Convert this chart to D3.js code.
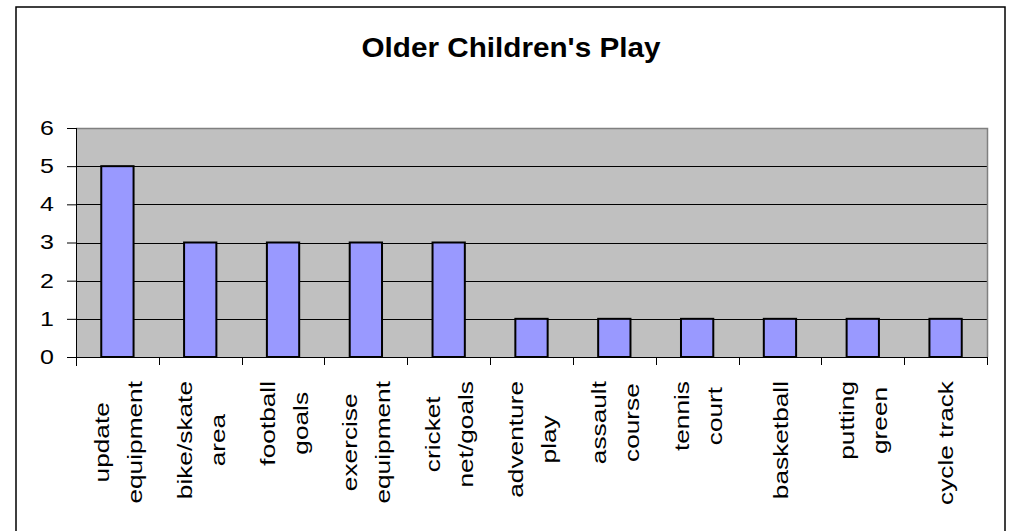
<!DOCTYPE html>
<html>
<head>
<meta charset="utf-8">
<script src="https://cdn.jsdelivr.net/npm/d3@7"></script>
<style>
  body { margin: 0; background: #fff; }
  text { font-family: Arial, "Liberation Sans", sans-serif; }
</style>
</head>
<body>
<div id="chart"></div>
<script>
// data
var categories = [
    ["update", "equipment"],
    ["bike/skate", "area"],
    ["football", "goals"],
    ["exercise", "equipment"],
    ["cricket", "net/goals"],
    ["adventure", "play"],
    ["assault", "course"],
    ["tennis", "court"],
    ["basketball"],
    ["putting", "green"],
    ["cycle track"]
]
var values = [5, 3, 3, 3, 3, 1, 1, 1, 1, 1, 1]
var yTicks = [0, 1, 2, 3, 4, 5, 6]
var title = "Older Children's Play"

function run() {
    const width = 1011
    const height = 531
    margin = ({ top: 128, right: 24, bottom: 174, left: 76 })
    const stretch = 1.25   // the original text is drawn wider than Arial

    var svg = d3.select('#chart')
        .append("svg")
        .attr('width', width)
        .attr('height', height)

    // outer frame
    svg.append("rect")
        .attr("x", 16)
        .attr("y", 7)
        .attr("width", 989)
        .attr("height", 540)
        .attr("fill", "white")
        .attr("stroke", "black")
        .attr("stroke-width", 1.5)

    var idx = d3.range(values.length)

    var x = d3.scaleBand()
        .domain(idx)
        .range([margin.left, width - margin.right])
        .paddingInner(0.61)
        .paddingOuter(0.305)

    var y = d3.scaleLinear()
        .domain([0, d3.max(yTicks)])
        .range([height - margin.bottom, margin.top])

    var x0 = margin.left, x1 = width - margin.right
    var y0 = y(0), y1 = y(d3.max(yTicks))

    // plot background
    svg.append("rect")
        .attr("x", x0)
        .attr("y", y1)
        .attr("width", x1 - x0)
        .attr("height", y0 - y1)
        .attr("fill", "#c0c0c0")

    // gridlines
    svg.append("g")
        .selectAll("line")
        .data(yTicks.filter(d => d > 0 && d < d3.max(yTicks)))
        .join("line")
        .attr("x1", x0)
        .attr("x2", x1)
        .attr("y1", d => Math.round(y(d)) + 0.5)
        .attr("y2", d => Math.round(y(d)) + 0.5)
        .attr("stroke", "black")

    // top and right border of plot area
    svg.append("path")
        .attr("d", `M${x0},${Math.round(y1) + 0.5}H${x1 + 0.5}V${y0}`)
        .attr("fill", "none")
        .attr("stroke", "#808080")
        .attr("stroke-width", 1.5)

    // bars
    svg.append("g")
        .selectAll("rect")
        .data(values)
        .join("rect")
        .attr("x", (d, i) => x(i))
        .attr("y", d => y(d))
        .attr("width", x.bandwidth())
        .attr("height", d => y(0) - y(d))
        .attr("fill", "#9999ff")
        .attr("stroke", "black")
        .attr("stroke-width", 2)

    // y axis
    svg.append("g")
        .attr("transform", `translate(${x0},0)`)
        .call(d3.axisLeft(y).tickValues(yTicks).tickFormat(d3.format("d"))
            .tickSize(9).tickPadding(13).tickSizeOuter(0))
        .call(g => g.select(".domain").attr("d", `M0.5,${y1}V${y0 + 9}`).attr("stroke", "black"))
        .call(g => g.selectAll(".tick line").attr("stroke", "black"))
        .call(g => g.selectAll(".tick text")
            .attr("x", 0)
            .attr("transform", `translate(-22,0) scale(${stretch},1)`)
            .attr("font-size", 20)
            .attr("fill", "black")
            .attr("font-family", 'Arial, "Liberation Sans", sans-serif'))

    // x axis line and category separators
    var step = x.step()
    var bounds = d3.range(values.length + 1).map(i => x0 + i * step)
    var xa = svg.append("g")
    xa.append("line")
        .attr("x1", x0 - 9)
        .attr("x2", x1)
        .attr("y1", Math.round(y0) + 0.5)
        .attr("y2", Math.round(y0) + 0.5)
        .attr("stroke", "black")
    xa.selectAll("line.sep")
        .data(bounds.slice(1))
        .join("line")
        .attr("class", "sep")
        .attr("x1", d => Math.round(d) + 0.5)
        .attr("x2", d => Math.round(d) + 0.5)
        .attr("y1", y0)
        .attr("y2", y0 + 8)
        .attr("stroke", "black")

    // category labels (rotated, wrapped like the original)
    var labelTop = y0 + 24
    var lab = svg.append("g")
        .selectAll("g")
        .data(categories)
        .join("g")

    lab.each(function (lines, i) {
        var g = d3.select(this)
        var cx = x(i) + x.bandwidth() / 2
        var offs = lines.length == 1 ? [0] : [-16, 17]
        var texts = lines.map((s, j) => g.append("text")
            .attr("font-size", 21)
            .attr("text-anchor", "middle")
            .attr("dy", "0.36em")
            .text(s))
        var maxLen = d3.max(texts, t => t.node().getComputedTextLength()) * stretch
        texts.forEach((t, j) => t.attr("transform",
            `translate(${cx + offs[j]},${labelTop + maxLen / 2}) rotate(-90) scale(${stretch},1)`))
    })

    // title
    svg.append("text")
        .attr("transform", "translate(511,57) scale(1.06,1)")
        .attr("text-anchor", "middle")
        .attr("font-size", 28)
        .attr("font-weight", "bold")
        .text(title)
}

run()
</script>
</body>
</html>
